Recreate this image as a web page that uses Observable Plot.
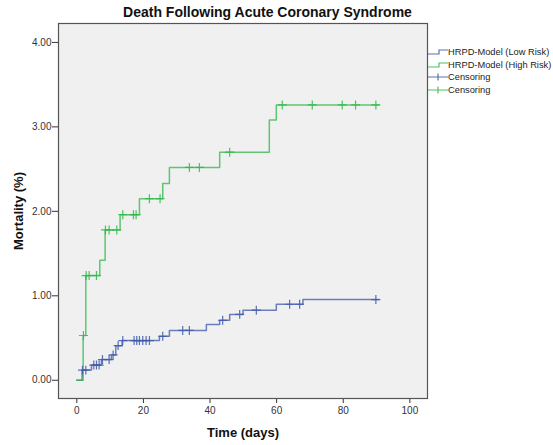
<!DOCTYPE html>
<html>
<head>
<meta charset="utf-8">
<script src="https://cdn.jsdelivr.net/npm/d3@7"></script>
<script src="https://cdn.jsdelivr.net/npm/@observablehq/plot@0.6"></script>
<style>
  html, body { margin: 0; padding: 0; background: #fff; }
  #wrap { position: relative; width: 553px; height: 445px; font-family: "Liberation Sans", Arial, sans-serif; }
  #title { position: absolute; left: 0; top: 4px; width: 535px; text-align: center; font-size: 14px; font-weight: bold; color: #111; }
  #legend { position: absolute; left: 428px; top: 46px; font-size: 9.3px; color: #222; }
  #legend .row { height: 12.5px; line-height: 12.5px; white-space: nowrap; display: flex; align-items: center; }
  #legend svg { width: 20px; height: 12px; flex: none; }
  g[aria-label="x-axis label"] text, g[aria-label="y-axis label"] text { font-size: 13px; font-weight: bold; fill: #111; }
</style>
</head>
<body>
<div id="wrap">
  <div id="chart"></div>
  <div id="title">Death Following Acute Coronary Syndrome</div>
  <div id="legend"></div>
</div>
<script>
// Kaplan–Meier style cumulative mortality, HRPD model risk groups
const lowRiskTimes  = [0, 1.6, 4.4, 7.4, 10.4, 11.7, 13.6, 24.8, 27.8, 38.9, 42.9, 45.9, 49.9, 59.9, 67.9, 90.7];
const lowRiskValues = [0, 0.12, 0.18, 0.245, 0.30, 0.41, 0.47, 0.52, 0.59, 0.66, 0.71, 0.78, 0.83, 0.90, 0.955, 0.955];
const lowRiskCensored = [1.7, 2.7, 5.1, 5.9, 6.7, 7.7, 9.7, 10.9, 12.4, 13.8, 17.2, 18.0, 18.8, 19.8, 20.8, 21.8, 25.8, 31.8, 33.8, 43.8, 48.9, 53.9, 63.9, 66.9, 89.8];

const highRiskTimes  = [0, 1.9, 2.7, 6.9, 8.5, 13.0, 18.8, 25.8, 27.8, 42.9, 57.8, 59.9, 90.7];
const highRiskValues = [0, 0.53, 1.24, 1.42, 1.78, 1.96, 2.15, 2.33, 2.52, 2.70, 3.08, 3.26, 3.26];
const highRiskCensored = [2.0, 2.8, 3.7, 5.9, 8.6, 9.7, 12.0, 13.8, 17.0, 17.8, 21.8, 25.0, 33.8, 36.8, 45.9, 61.7, 70.7, 79.7, 83.7, 89.8];

const seriesNames = ["HRPD-Model (Low Risk)", "HRPD-Model (High Risk)"];
const seriesColors = ["#3E58AC", "#2EB848"];
const xTicks = [0, 20, 40, 60, 80, 100];
const yTicks = [0, 1, 2, 3, 4];

// Build step rows and place each censor mark on its curve
function steps(times, values) {
  return times.map((t, i) => ({t, v: values[i]}));
}
function censorRows(times, stepTimes, stepValues) {
  return times.map(t => {
    const i = d3.bisectRight(stepTimes, t) - 1;
    return {t, v: stepValues[Math.max(0, i)]};
  });
}
const lowSteps = steps(lowRiskTimes, lowRiskValues);
const highSteps = steps(highRiskTimes, highRiskValues);
const lowCens = censorRows(lowRiskCensored, lowRiskTimes, lowRiskValues);
const highCens = censorRows(highRiskCensored, highRiskTimes, highRiskValues);

const lineStyle = {strokeWidth: 1.5, strokeOpacity: 0.75, curve: "step-after"};

const chart = Plot.plot({
  width: 553,
  height: 445,
  marginLeft: 58,
  marginRight: 126,
  marginTop: 23,
  marginBottom: 47,
  style: {fontFamily: "'Liberation Sans', Arial, sans-serif", fontSize: "10px", color: "#333", background: "#fff"},
  x: {domain: [-5.5, 105.3], ticks: xTicks, tickSize: 5, tickPadding: 3, tickFormat: d3.format("d"),
      label: "Time (days)", labelAnchor: "center", labelArrow: "none", labelOffset: 38},
  y: {domain: [-0.216, 4.224], ticks: yTicks, tickSize: 6, tickPadding: 1, tickFormat: d3.format(".2f"),
      label: "Mortality (%)", labelAnchor: "center", labelArrow: "none", labelOffset: 45},
  marks: [
    Plot.frame({fill: "#f0f0f0"}),
    Plot.line(lowSteps, {x: "t", y: "v", stroke: seriesColors[0], ...lineStyle}),
    Plot.line(highSteps, {x: "t", y: "v", stroke: seriesColors[1], ...lineStyle}),
    Plot.dot(lowCens, {x: "t", y: "v", symbol: "plus", r: 3, stroke: seriesColors[0], strokeWidth: 1.2, strokeOpacity: 0.85}),
    Plot.dot(highCens, {x: "t", y: "v", symbol: "plus", r: 3, stroke: seriesColors[1], strokeWidth: 1.2, strokeOpacity: 0.85}),
    Plot.frame({stroke: "#555", strokeWidth: 1.2})
  ]
});
document.getElementById("chart").appendChild(chart);

// Legend: step glyphs for the curves, cross glyphs for censoring
const legend = d3.select("#legend");
const entries = [
  {label: seriesNames[0], color: seriesColors[0], kind: "step"},
  {label: seriesNames[1], color: seriesColors[1], kind: "step"},
  {label: "Censoring", color: seriesColors[0], kind: "cross"},
  {label: "Censoring", color: seriesColors[1], kind: "cross"}
];
for (const e of entries) {
  const row = legend.append("div").attr("class", "row");
  const svg = row.append("svg").attr("viewBox", "0 0 20 12");
  if (e.kind === "step") {
    svg.append("path").attr("d", "M0,8H11V4H20").attr("fill", "none")
      .attr("stroke", e.color).attr("stroke-width", 1.2).attr("stroke-opacity", 0.85);
  } else {
    svg.append("path").attr("d", "M0,6H20M10,2.5V9.5").attr("fill", "none")
      .attr("stroke", e.color).attr("stroke-width", 1.2).attr("stroke-opacity", 0.85);
  }
  row.append("span").text(e.label);
}
</script>
</body>
</html>
